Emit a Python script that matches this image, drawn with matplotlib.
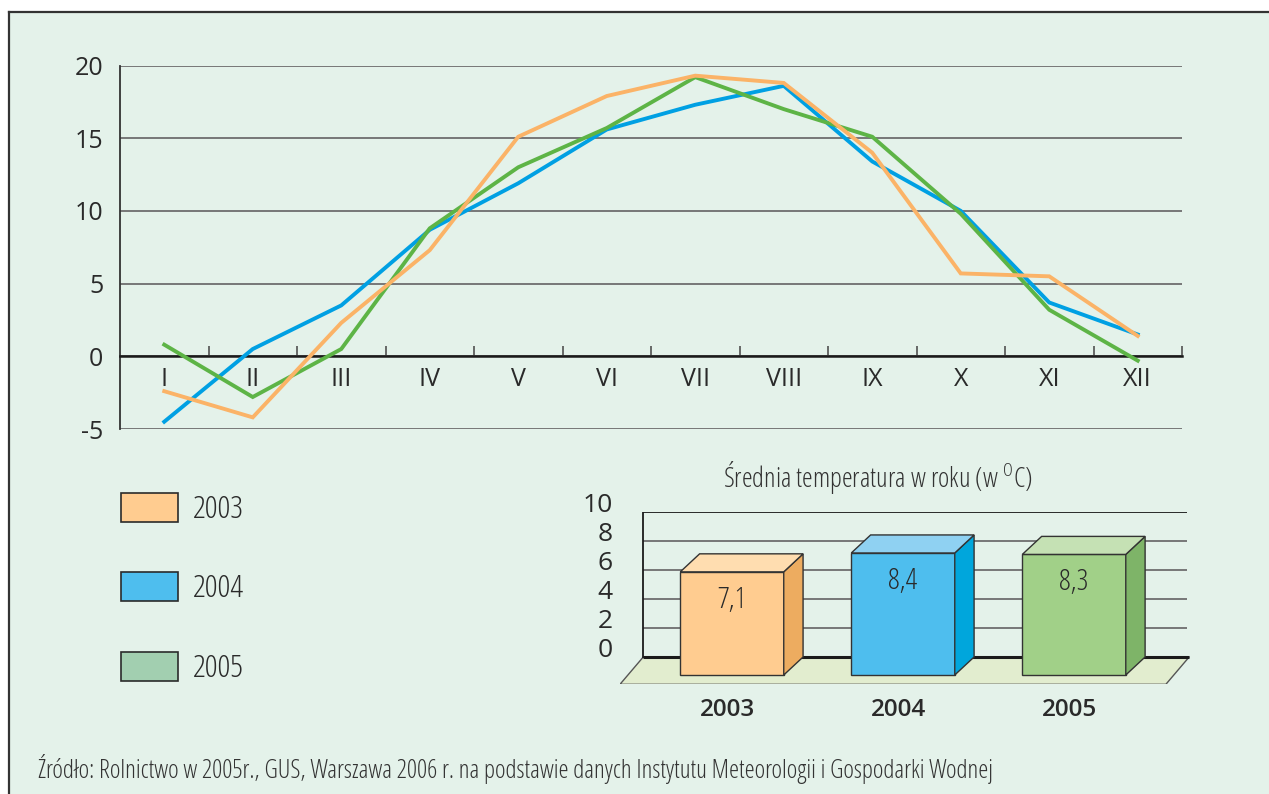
import matplotlib
matplotlib.use('Agg')
import matplotlib.pyplot as plt
from matplotlib.patches import Rectangle, Polygon
from matplotlib.ticker import FixedLocator

plt.rcParams['mathtext.fontset'] = 'custom'
plt.rcParams['mathtext.rm'] = 'Open Sans:weight=light:stretch=condensed'

# ---------------- data ----------------
months = ['I', 'II', 'III', 'IV', 'V', 'VI', 'VII', 'VIII', 'IX', 'X', 'XI', 'XII']
t2003 = [-2.4, -4.2, 2.3, 7.3, 15.1, 17.9, 19.3, 18.8, 14.0, 5.7, 5.5, 1.4]
t2004 = [-4.5, 0.5, 3.5, 8.7, 11.9, 15.6, 17.3, 18.6, 13.4, 10.0, 3.7, 1.5]
t2005 = [0.8, -2.8, 0.5, 8.8, 13.0, 15.7, 19.2, 17.0, 15.1, 9.8, 3.2, -0.3]
years = ['2003', '2004', '2005']
line_yticks = [-5, 0, 5, 10, 15, 20]

annual_means = [7.1, 8.4, 8.3]
annual_labels = ['7,1', '8,4', '8,3']
bar_yticks = [0, 2, 4, 6, 8, 10]

bar_title = 'Średnia temperatura w roku (w $^{\\mathrm{O}}$C)'
source = ('Źródło: Rolnictwo w 2005r., GUS, Warszawa 2006 r. na podstawie danych '
          'Instytutu Meteorologii i Gospodarki Wodnej')

# ---------------- styles ----------------
line_colors = ['#FBB367', '#00A0E3', '#5DB446']
legend_colors = ['#FFCC90', '#4EBEEE', '#A2CFB0']
bar_front = ['#FFCC90', '#4EBEEE', '#A1D088']
bar_side = ['#EDAC60', '#00A6DC', '#7EB468']
bar_top = ['#FFDDB0', '#8FD1F2', '#C5E1B4']
BG = '#E4F2EA'
TXT = '#2a2a2a'
NARROW = dict(family=['Open Sans', 'DejaVu Sans'], fontstretch='condensed', fontweight='light')
SANS = ['Open Sans', 'DejaVu Sans']

W, H = 1269, 794
fig = plt.figure(figsize=(W / 100, H / 100), dpi=100, facecolor='white')


def fx(px):
    return px / W


def fy(py):
    return 1 - py / H


# background panel with left/top border
fig.add_artist(Rectangle((fx(9), 0), 1 - fx(9) + 0.01, fy(12), transform=fig.transFigure,
                         facecolor=BG, edgecolor='none', zorder=0))
fig.add_artist(plt.Line2D([fx(9), fx(9)], [0, fy(12)], transform=fig.transFigure,
                          color='#333333', lw=1.6, zorder=1))
fig.add_artist(plt.Line2D([fx(9), 1], [fy(12), fy(12)], transform=fig.transFigure,
                          color='#333333', lw=1.6, zorder=1))

# ---------------- line chart ----------------
ax = fig.add_axes([fx(120), fy(429), (1182 - 120) / W, (429 - 65.5) / H])
ax.set_facecolor('none')
x = list(range(len(months)))
for series, col in zip([t2004, t2005, t2003], [line_colors[1], line_colors[2], line_colors[0]]):
    ax.plot(x, series, color=col, lw=2.8, solid_joinstyle='miter', zorder=3)

ax.set_xlim(-0.5, len(months) - 0.5)
ax.set_ylim(line_yticks[0], line_yticks[-1])
ax.set_yticks(line_yticks)
ax.set_yticklabels([str(v) for v in line_yticks], fontsize=18, family=SANS, color=TXT)
ax.tick_params(axis='y', length=0, pad=12)
ax.yaxis.grid(True, color='#6e6e6e', lw=1.3)
ax.set_axisbelow(True)
for s in ['top', 'right']:
    ax.spines[s].set_visible(False)
ax.spines['left'].set_color('#333333')
ax.spines['left'].set_linewidth(1.3)
ax.spines['bottom'].set_position(('data', 0))
ax.spines['bottom'].set_color('#1a1a1a')
ax.spines['bottom'].set_linewidth(1.8)
ax.spines['bottom'].set_zorder(2.5)
ax.set_xticks(x)
ax.set_xticklabels(months, fontsize=18, family=SANS, color=TXT)
ax.tick_params(axis='x', which='major', length=0, pad=8)
ax.xaxis.set_minor_locator(FixedLocator([i + 0.5 for i in x]))
ax.tick_params(axis='x', which='minor', direction='in', length=7, width=1.1, color='#444444')

# ---------------- legend ----------------
leg_top = [493, 572, 652]
for yr, col, top in zip(years, legend_colors, leg_top):
    fig.add_artist(Rectangle((fx(121), fy(top + 28.5)), 57 / W, 28.5 / H,
                             transform=fig.transFigure, facecolor=col,
                             edgecolor='#2b2b2b', lw=1.2, zorder=2))
    fig.text(fx(193), fy(top + 17), yr, fontsize=23, color=TXT,
             ha='left', va='center', zorder=2, **NARROW)

# ---------------- 3D bar chart ----------------
bx = fig.add_axes([fx(620), fy(684.3), (1190 - 620) / W, (684.3 - 511.7) / H])
bx.set_facecolor('none')
bx.axis('off')
bx.set_xlim(-0.655, 2.678)
bx.set_ylim(-1.88, 10)

wall_l, wall_r = -0.519, 2.661
floor_dx, floor_dy = 0.136, 1.88
# floor
bx.add_patch(Polygon([(wall_l - floor_dx, -floor_dy), (2.537, -floor_dy), (2.673, 0),
                      (wall_l, 0)], closed=True, facecolor='#E2EDCF', edgecolor='#555555',
                     lw=1.0, zorder=1))
# back wall grid
for v in bar_yticks:
    if v > 0:
        bx.plot([wall_l, wall_r], [v, v],
                color='#1a1a1a' if v == bar_yticks[-1] else '#6e6e6e',
                lw=1.3, zorder=1.5, solid_capstyle='butt')
    bx.annotate(str(v), (0, v), xycoords=('axes fraction', 'data'), xytext=(-7, 6),
                textcoords='offset pixels', ha='right', va='center', fontsize=19,
                family=SANS, color=TXT)
bx.plot([wall_l, 2.673], [0, 0], color='#1a1a1a', lw=2.2, zorder=1.6, solid_capstyle='butt')
bx.plot([wall_l, wall_l], [0, 10], color='#1a1a1a', lw=1.3, zorder=1.6)

w = 0.605
dx, dy = 0.113, 1.24
for i, (v, lab, yr) in enumerate(zip(annual_means, annual_labels, years)):
    c = i
    l, r = c - w / 2, c + w / 2
    bx.add_patch(Polygon([(l, -dy), (r, -dy), (r, v - dy), (l, v - dy)], closed=True,
                         facecolor=bar_front[i], edgecolor='#333333', lw=1.0, zorder=3))
    bx.add_patch(Polygon([(r, -dy), (r + dx, 0), (r + dx, v), (r, v - dy)], closed=True,
                         facecolor=bar_side[i], edgecolor='#333333', lw=1.0, zorder=3))
    bx.add_patch(Polygon([(l, v - dy), (r, v - dy), (r + dx, v), (l + dx, v)], closed=True,
                         facecolor=bar_top[i], edgecolor='#333333', lw=1.0, zorder=3))
    bx.annotate(lab, (c, v - dy), xytext=(0, -28), textcoords='offset pixels',
                ha='center', va='center', fontsize=21, color=TXT, zorder=4, **NARROW)
    bx.annotate(yr, (c, -floor_dy), xytext=(-5, -26), textcoords='offset pixels',
                ha='center', va='center', fontsize=17.5, family=SANS, fontweight='semibold',
                color=TXT)

fig.text(fx(878), fy(477), bar_title, fontsize=19.5, color='#333333',
         ha='center', va='center', **NARROW)

fig.text(fx(38), fy(769), source, fontsize=18.3, color='#333333',
         ha='left', va='center', **NARROW)

fig.savefig('out.png', dpi=100, facecolor='white')
